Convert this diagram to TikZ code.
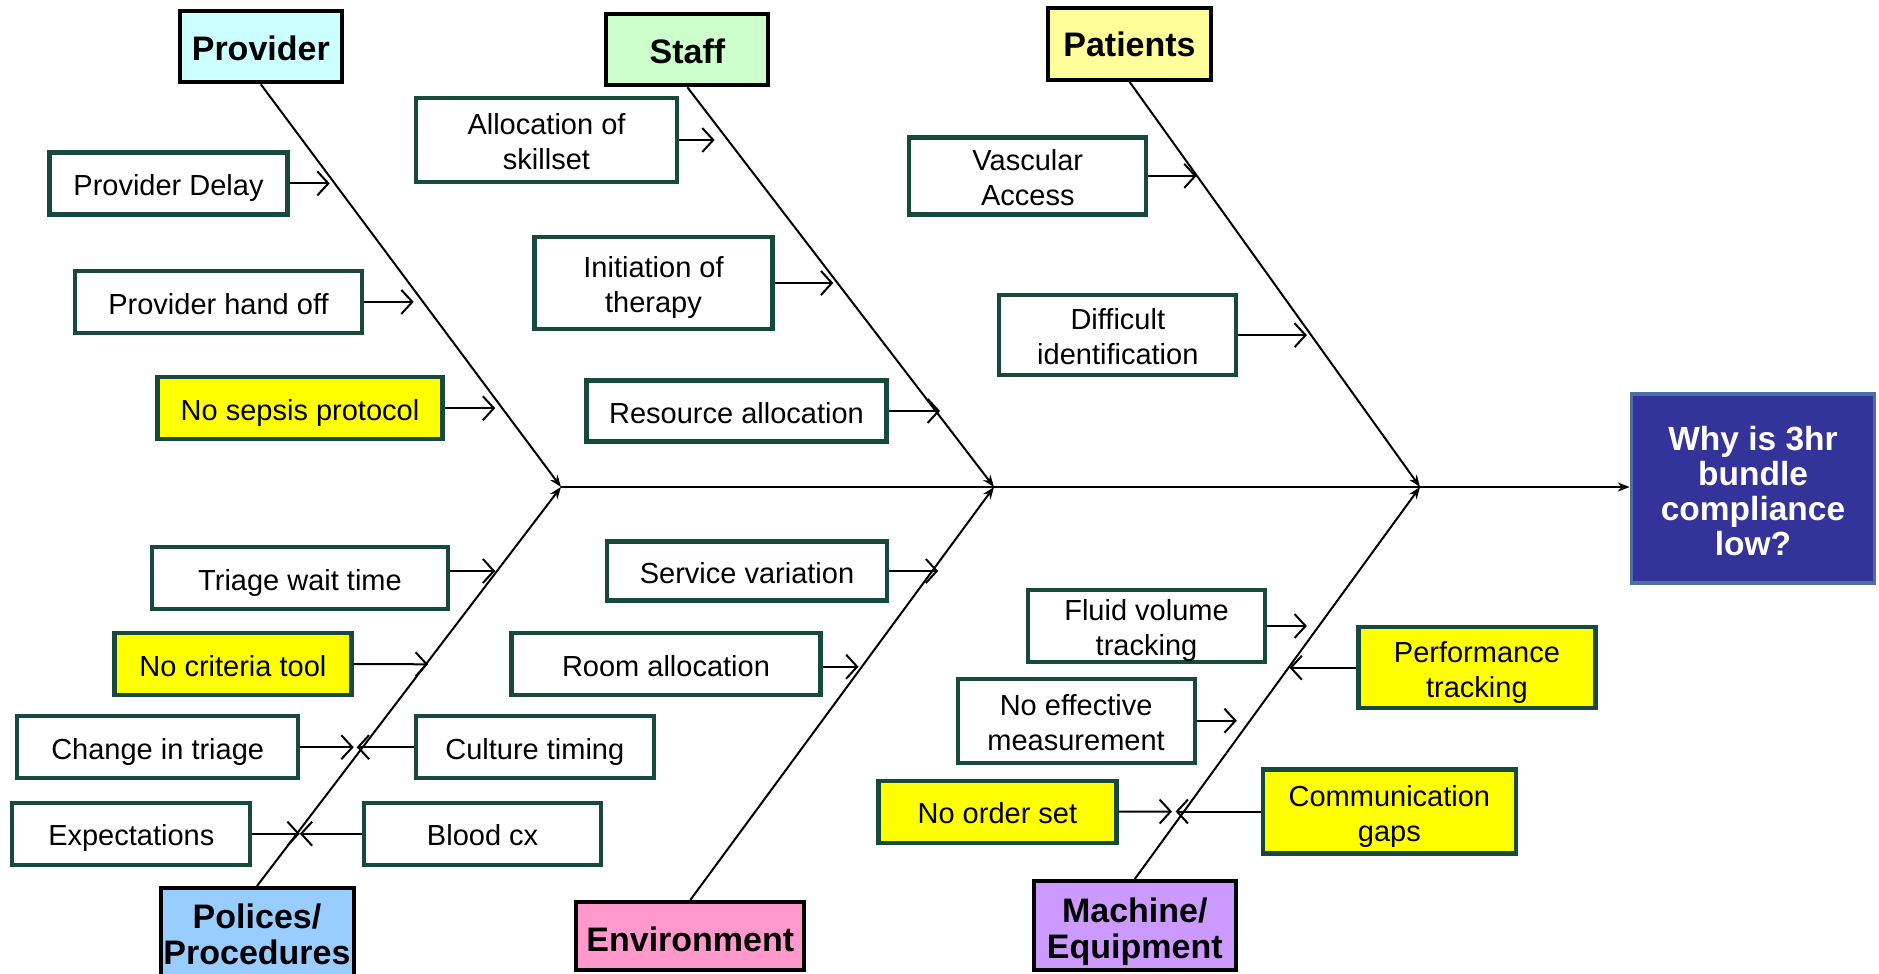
\documentclass[tikz,border=0pt]{standalone}
\usepackage{fontspec}
\setmainfont{Liberation Sans}
\usetikzlibrary{arrows.meta}
\definecolor{cborder}{HTML}{174A3C}
\definecolor{cyellow}{HTML}{FFFF00}
\definecolor{provfill}{HTML}{CCFFFF}
\definecolor{stafffill}{HTML}{CCFFCC}
\definecolor{patfill}{HTML}{FFFF99}
\definecolor{polfill}{HTML}{99CCFF}
\definecolor{envfill}{HTML}{FF99CC}
\definecolor{machfill}{HTML}{CC99FF}
\definecolor{efffill}{HTML}{333399}
\definecolor{effborder}{HTML}{4A6FA5}
\begin{document}
\begin{tikzpicture}[x=1pt,y=-1pt,
  cause/.style={draw=cborder, line width=4.2pt, fill=white, inner sep=0pt, align=center, font=\fontsize{29}{35}\selectfont,
    execute at begin node={\rule{0pt}{#1}}, execute at end node={\rule[-6.5pt]{0pt}{0pt}}},
  cause/.default=31pt,
  ycause/.style={cause=#1, fill=cyellow},
  ycause/.default=31pt,
  cat/.style={draw=black, line width=4pt, inner sep=0pt, align=center, font=\fontsize{34}{36}\selectfont\bfseries},
  topstrut/.style={execute at begin node={\rule{0pt}{#1}}},
  botstrut/.style={execute at end node={\rule[-#1]{0pt}{0pt}}},
  effbox/.style={draw=effborder, line width=3.5pt, fill=efffill, text=white, inner sep=0pt, align=center, font=\fontsize{33.5}{35}\selectfont\bfseries},
  bone/.style={line width=2pt, -{Stealth[length=12pt,width=9pt]}},
  carrow/.style={line width=2pt, -{Straight Barb[length=11pt,width=24pt]}}
]
\useasboundingbox (0,0) rectangle (1879,974);

% category boxes
\node[cat, topstrut=27pt, fill=provfill, minimum width=162pt, minimum height=71pt] (prov) at (260.8,46.8) {Provider};
\node[cat, topstrut=27pt, fill=stafffill, minimum width=162pt, minimum height=71pt] (staff) at (687.4,49.8) {Staff};
\node[cat, topstrut=26pt, fill=patfill, minimum width=163pt, minimum height=72pt] (pat) at (1129.5,43.8) {Patients};
\node[cat, fill=polfill, minimum width=193pt, minimum height=92pt] (pol) at (257,934) {Polices/\\Procedures};
\node[cat, topstrut=31.5pt, fill=envfill, minimum width=228pt, minimum height=68pt] (env) at (690.3,936) {Environment};
\node[cat, topstrut=72.5pt, botstrut=7pt, fill=machfill, minimum width=202pt, minimum height=89pt] (mach) at (1134.8,925.5) {Machine/\\Equipment};
\node[effbox, topstrut=135.5pt, minimum width=243pt, minimum height=189pt] (eff) at (1753,488.3) {Why is 3hr\\bundle\\compliance\\low?};

% junctions on the spine
\coordinate (j1) at (561,487);
\coordinate (j2) at (994,487);
\coordinate (j3) at (1420,487);

% spine and bones
\draw[bone] (j1) -- (j1 -| eff.west);
\draw[bone] (prov.south) -- (j1);
\draw[bone] (pol.north) -- (j1);
\draw[bone] (staff.south) -- (j2);
\draw[bone] (env.north) -- (j2);
\draw[bone] (pat.south) -- (j3);
\draw[bone] (mach.north) -- (j3);

% cause boxes
\node[cause, minimum width=238pt, minimum height=62pt] (pd) at (168.5,183.4) {Provider Delay};
\node[cause, minimum width=287pt, minimum height=62pt] (pho) at (218.5,301.9) {Provider hand off};
\node[ycause, minimum width=285pt, minimum height=62pt] (nsp) at (300,408.2) {No sepsis protocol};
\node[cause=66pt, minimum width=261pt, minimum height=84pt] (aos) at (546.5,140) {Allocation of\\skillset};
\node[cause=66pt, minimum width=238pt, minimum height=92pt] (iot) at (653.5,283) {Initiation of\\therapy};
\node[cause, minimum width=300pt, minimum height=61pt] (ra) at (736.5,410.9) {Resource allocation};
\node[cause=66pt, minimum width=237pt, minimum height=77pt] (va) at (1027.8,175.9) {Vascular\\Access};
\node[cause=66pt, minimum width=237pt, minimum height=80pt] (di) at (1117.8,335.2) {Difficult\\identification};
\node[cause, minimum width=296pt, minimum height=62pt] (twt) at (300,577.8) {Triage wait time};
\node[ycause, minimum width=237pt, minimum height=62pt] (nct) at (232.9,664) {No criteria tool};
\node[cause, minimum width=281pt, minimum height=62pt] (cit) at (157.7,747.2) {Change in triage};
\node[cause, minimum width=238pt, minimum height=62pt] (ct) at (534.8,747.2) {Culture timing};
\node[cause, minimum width=238pt, minimum height=62pt] (exp) at (131.3,833.7) {Expectations};
\node[cause, minimum width=237pt, minimum height=62pt] (bcx) at (482.6,833.7) {Blood cx};
\node[cause, minimum width=280pt, minimum height=59pt] (sv) at (747,571) {Service variation};
\node[cause, minimum width=309pt, minimum height=62pt] (rma) at (666,664) {Room allocation};
\node[cause=66pt, minimum width=237pt, minimum height=68pt] (fvt) at (1146.5,626) {Fluid volume\\tracking};
\node[ycause=66pt, minimum width=237pt, minimum height=81pt] (pt) at (1476.9,667.7) {Performance\\tracking};
\node[cause=66pt, minimum width=237pt, minimum height=84pt] (nem) at (1076.1,720.7) {No effective\\measurement};
\node[ycause, minimum width=238pt, minimum height=62pt] (nos) at (997.4,811.7) {No order set};
\node[ycause=66pt, minimum width=253pt, minimum height=84pt] (cg) at (1389.4,811.5) {Communication\\gaps};

% arrow tips
\coordinate (t1) at (329.7,183.4);
\coordinate (t2) at (413.7,301.9);
\coordinate (t3) at (495.2,408.2);
\coordinate (t4) at (714.6,140);
\coordinate (t5) at (833.3,283);
\coordinate (t6) at (940,410.9);
\coordinate (t7) at (1196.6,175.9);
\coordinate (t8) at (1306.9,335.2);
\coordinate (t9) at (495.2,571);
\coordinate (t10) at (428,664.3);
\coordinate (t11) at (353.7,747.2);
\coordinate (t12) at (356.7,747.2);
\coordinate (t13) at (299.8,833.7);
\coordinate (t14) at (299.8,833.7);
\coordinate (t15) at (938.2,571);
\coordinate (t16) at (858.5,666.7);
\coordinate (t17) at (1306.9,626);
\coordinate (t18) at (1289.5,667.7);
\coordinate (t19) at (1236.8,720.7);
\coordinate (t20) at (1172,811.5);
\coordinate (t21) at (1175.6,811.5);

% cause arrows
\draw[carrow] (pd.east) -- (t1);
\draw[carrow] (pho.east) -- (t2);
\draw[carrow] (nsp.east) -- (t3);
\draw[carrow] (aos.east) -- (t4);
\draw[carrow] (iot.east) -- (t5);
\draw[carrow] (ra.east) -- (t6);
\draw[carrow] (va.east) -- (t7);
\draw[carrow] (di.east) -- (t8);
\draw[carrow] (twt.east |- t9) -- (t9);
\draw[carrow] (nct.east) -- (t10);
\draw[carrow] (cit.east) -- (t11);
\draw[carrow] (ct.west) -- (t12);
\draw[carrow] (exp.east) -- (t13);
\draw[carrow] (bcx.west) -- (t14);
\draw[carrow] (sv.east) -- (t15);
\draw[carrow] (rma.east |- t16) -- (t16);
\draw[carrow] (fvt.east) -- (t17);
\draw[carrow] (pt.west) -- (t18);
\draw[carrow] (nem.east) -- (t19);
\draw[carrow] (nos.east) -- (t20);
\draw[carrow] (cg.west) -- (t21);
\end{tikzpicture}
\end{document}
